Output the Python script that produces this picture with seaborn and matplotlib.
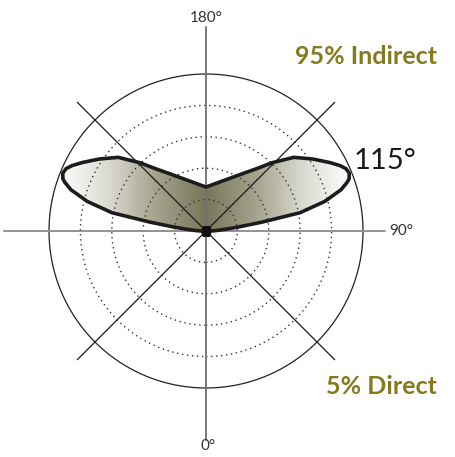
import numpy as np
import matplotlib
matplotlib.use("Agg")
import matplotlib.pyplot as plt
from matplotlib.colors import LinearSegmentedColormap
import seaborn as sns

# ---- data (photometric angle from nadir in degrees, intensity in ring units) ----
angles = [0, 30, 60, 85, 90, 92, 95, 97, 99, 101, 104, 107, 109, 110, 112, 114, 116, 119, 124, 130, 136, 140, 150, 160, 170, 180]
intensity = [0.12, 0.12, 0.10, 0.08, 0.15, 0.3, 0.6, 1.03, 1.8, 3.05, 3.9, 4.5, 4.75, 4.85, 4.92, 4.88, 4.75, 4.5, 4.1, 3.65, 3.02, 2.63, 2.05, 1.72, 1.52, 1.40]
ring_levels = [1, 2, 3, 4]
outer_ring = 5
axis_labels = ["180°", "0°", "90°"]
peak_label = "115°"
indirect_label = "95% Indirect"
direct_label = "5% Direct"

sns.set_style("white")
plt.rcParams['font.family'] = ['Lato', 'DejaVu Sans']

W, H = 455, 457
fig = plt.figure(figsize=(W / 100, H / 100), dpi=100)
cx, cy = 206, 231          # pixel centre
px_per_unit = 157 / outer_ring
Rpx = 215
Rmax = Rpx / px_per_unit
ax = fig.add_axes([(cx - Rpx) / W, (H - cy - Rpx) / H, 2 * Rpx / W, 2 * Rpx / H], projection='polar')
ax.set_theta_zero_location('S')
ax.set_theta_direction(1)
ax.set_ylim(0, Rmax)
ax.grid(False)
ax.set_xticks([])
ax.set_yticks([])
ax.spines['polar'].set_visible(False)
ax.patch.set_alpha(0)

# closed outline: right lobe then mirrored left lobe
th_r = np.deg2rad(angles)
th_l = np.deg2rad(360 - np.array(angles[::-1]))
theta = np.concatenate([th_r, th_l[1:]])
r = np.concatenate([intensity, intensity[::-1][1:]])

# gradient fill clipped to the outline
cmap = LinearSegmentedColormap.from_list("olive", ["#78775b", "#a3a28c", "#dcdbd2", "#ffffff"])
tg = np.linspace(0, 2 * np.pi, 721)
rg = np.linspace(0, 5.2, 200)
TT, RR = np.meshgrid(tg, rg)
C = np.abs(RR * np.sin(TT))
patch = ax.fill(theta, r, facecolor='none', edgecolor='none', zorder=1)[0]
mesh = ax.pcolormesh(TT, RR, C[:-1, :-1], cmap=cmap, vmin=0, vmax=4.7, shading='flat', zorder=1)
mesh.set_clip_path(patch)

# rings
tc = np.linspace(0, 2 * np.pi, 500)
for lv in ring_levels:
    ax.plot(tc, np.full_like(tc, lv), color='#333333', lw=1.0, ls=(0, (1, 2.6)), zorder=2)
ax.plot(tc, np.full_like(tc, outer_ring), color='#222222', lw=0.9, zorder=2)

# axis lines
u = 1 / px_per_unit
ax.plot([np.pi, np.pi], [0, 204 * u], color='#707070', lw=1.3, zorder=2)
ax.plot([0, 0], [0, 209 * u], color='#707070', lw=1.3, zorder=2)
ax.plot([1.5 * np.pi, 1.5 * np.pi], [0, 202 * u], color='#8a8a8a', lw=1.3, zorder=2)
ax.plot([0.5 * np.pi, 0.5 * np.pi], [0, 179 * u], color='#8a8a8a', lw=1.3, zorder=2)
for a in [45, 135, 225, 315]:
    ax.plot([np.deg2rad(a)] * 2, [0, 182 * u], color='#1a1a1a', lw=0.9, zorder=2)

# outline
sns.lineplot(x=theta, y=r, sort=False, estimator=None, ax=ax, color='#1c1c1c', lw=2.6, zorder=3)
ax.plot([0], [0], marker='s', ms=6, color='#111111', zorder=4)
ax.set_ylim(0, Rmax)

def ftext(x, y, s, **kw):
    fig.text(x / W, 1 - y / H, s, **kw)

ftext(206, 18, axis_labels[0], ha='center', va='center', fontsize=11, color='#333333')
ftext(208, 446, axis_labels[1], ha='center', va='center', fontsize=11, color='#333333')
ftext(389, 231, axis_labels[2], ha='left', va='center', fontsize=11, color='#333333')
ftext(354, 161, peak_label, ha='left', va='center', fontsize=21, color='#1a1a1a')
ftext(437, 57, indirect_label, ha='right', va='center', fontsize=18, color='#857a20', fontweight='bold')
ftext(437, 386, direct_label, ha='right', va='center', fontsize=18, color='#857a20', fontweight='bold')

fig.savefig("out.png", dpi=100)
